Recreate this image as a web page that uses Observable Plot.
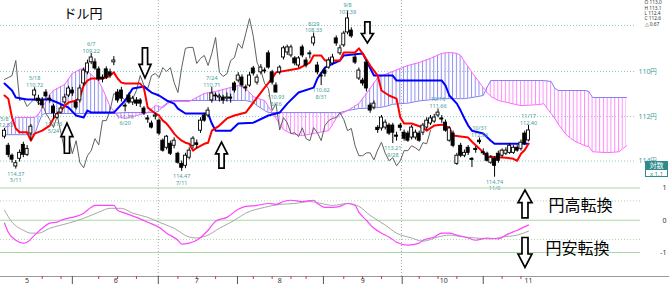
<!DOCTYPE html>
<html><head><meta charset="utf-8">
<script src="https://cdn.jsdelivr.net/npm/d3@7"></script>
<script src="https://cdn.jsdelivr.net/npm/@observablehq/plot@0.6"></script>
<style>
body{margin:0;background:#fff;}
#chart{width:669px;height:284px;overflow:hidden;font-family:"Liberation Sans",Arial,sans-serif;}
#chart svg{display:block;}
</style></head><body><div id="chart"></div>
<script>
// ---- Daily candles (index 0 = 5/8 ... 139 = 11/17) ----
const open = [
112.9,113.31,113.76,114.25,113.9,113.27,113.72,112.76,111.06,111.2,
111.28,110.93,111.2,111.55,112.05,111.82,111.37,111.06,110.84,111.37,
111.28,110.53,110.04,109.6,109.6,109.91,110.27,109.91,110.04,109.6,
110.93,110.84,111.51,111.06,111.37,111.28,111.28,111.64,112.08,112.31,
112.0,112.18,113.08,113.4,113.22,113.31,113.67,114.13,114.22,113.85,
113.31,113.2,112.63,111.95,111.95,111.28,111.06,111.15,111.15,111.2,
111.15,110.53,110.4,110.27,110.7,110.62,109.87,110.49,110.04,109.96,
109.21,110.04,110.62,110.04,109.39,109.17,109.3,109.43,109.74,108.95,
109.52,109.25,108.78,109.74,110.18,109.96,109.83,109.65,108.56,109.21,
108.86,108.3,108.22,109.39,110.31,110.4,109.61,111.51,111.6,112.5,
112.53,112.49,112.4,112.4,112.85,112.4,112.72,112.76,112.94,112.94,
112.76,112.72,112.49,112.31,112.22,111.95,112.08,112.27,113.08,112.76,
114.13,113.31,113.76,113.4,113.9,113.45,113.08,113.6,113.67,114.08,
113.9,113.67,113.76,113.67,113.63,113.63,113.4,113.45,112.76,113.07];
const high = [
113.0,113.85,114.1,114.37,114.05,113.85,113.8,113.1,111.3,111.5,
111.65,111.25,111.4,112.13,112.1,111.9,111.45,111.15,111.1,111.7,
111.4,110.65,110.15,109.7,109.95,110.45,110.5,110.35,110.3,109.75,
111.4,111.35,111.79,111.45,111.5,111.55,111.6,111.95,112.3,112.55,
112.15,112.85,113.6,113.5,113.75,113.45,114.15,114.47,114.35,113.95,
113.45,113.45,112.75,112.25,112.05,111.4,111.3,111.35,111.45,111.35,
111.4,110.95,110.5,110.7,110.9,110.7,110.2,110.6,110.15,110.1,
109.9,110.6,110.93,110.15,109.5,109.3,109.4,109.75,109.85,109.4,
109.85,109.45,108.9,110.15,110.62,110.25,109.9,109.75,108.9,109.3,
108.95,108.4,108.55,109.7,110.4,110.65,110.9,111.85,111.7,112.75,
112.65,112.6,112.85,113.21,113.1,112.65,113.1,113.15,113.05,113.05,
113.15,112.85,112.6,112.4,112.3,112.05,112.3,112.7,113.15,113.4,
114.2,113.85,113.85,113.75,114.3,113.65,113.25,113.75,114.05,114.15,
114.74,114.1,113.85,113.75,113.7,113.7,113.6,113.55,113.3,113.13];
const low = [
112.53,113.2,113.68,113.98,113.5,113.15,113.3,112.35,110.72,111.05,
111.15,110.8,111.05,111.45,111.8,111.5,111.0,110.65,110.7,111.25,
110.6,109.85,109.5,109.22,109.45,109.8,110.15,109.8,109.9,109.35,
110.8,110.7,111.4,110.95,111.1,111.15,111.2,111.55,111.95,112.2,
111.85,112.1,113.0,112.85,113.1,112.95,113.6,114.0,113.65,113.4,
112.9,113.05,112.05,111.85,111.6,110.71,110.95,111.0,111.05,110.95,
111.0,110.45,110.05,110.15,110.6,110.05,109.78,110.15,109.7,109.85,
109.1,109.95,110.5,109.75,108.9,108.85,108.85,109.35,109.35,108.85,
109.4,109.1,108.33,109.6,110.05,109.85,109.4,109.25,108.45,108.85,
108.25,107.39,108.1,109.25,109.85,110.3,109.5,111.4,111.3,112.4,
111.95,112.15,112.3,112.3,112.7,112.3,112.6,112.65,112.4,112.6,
112.65,112.3,112.05,111.95,111.9,111.66,111.95,112.15,112.45,112.65,
113.65,113.2,113.5,113.3,113.85,113.35,112.96,113.45,113.6,113.75,
113.8,113.55,113.45,113.4,113.2,113.3,113.3,113.05,112.65,112.40];
const close = [
112.63,113.72,113.94,114.1,113.63,113.72,113.45,112.45,110.84,111.3,
111.5,111.1,111.25,111.85,111.9,111.64,111.15,110.75,110.97,111.6,
110.75,109.96,109.65,109.39,109.87,110.35,110.35,110.27,110.18,109.52,
111.28,111.2,111.55,111.37,111.2,111.42,111.42,111.86,112.13,112.49,
111.95,112.76,113.53,112.9,113.67,113.08,114.08,114.31,113.76,113.53,
112.99,113.27,112.18,112.18,111.73,110.97,111.1,111.1,111.28,111.15,
111.2,110.84,110.18,110.62,110.75,110.18,110.09,110.27,109.83,110.0,
109.83,110.49,110.93,109.83,108.99,108.95,108.95,109.65,109.43,109.3,
109.74,109.21,108.52,110.04,110.22,110.1,109.52,109.39,108.78,108.99,
108.35,107.7,108.47,109.61,109.96,110.53,110.75,111.73,111.42,112.6,
112.04,112.27,112.76,112.72,112.9,112.5,112.99,113.08,112.49,112.72,
113.08,112.4,112.18,112.08,112.04,111.82,112.13,112.63,112.53,113.31,
113.76,113.76,113.63,113.63,113.95,113.5,113.15,113.65,113.99,113.85,
114.22,113.99,113.53,113.53,113.31,113.4,113.53,113.17,113.22,112.62];

// ---- Ichimoku lines (index, price) ----
const tenkanIdx = [0,1,2,3,4,6,7,8,10,12,13,14,15,16,17,19,20,21,22,23,26,27,28,29,30,31,32,36,37,38,39,40,41,42,43,44,45,46,47,48,49,50,51,52,53,54,55,57,59,61,64,67,69,71,72,75,78,81,82,84,85,89,90,93,94,95,97,99,100,102,104,105,106,108,111,112,114,116,118,119,123,124,126,127,128,133,135,136,137,138,139];
const tenkanVal = [111.06,111.2,112.04,112.53,112.7,112.7,113.08,112.76,112.63,112.4,112.08,111.86,111.73,111.51,111.37,111.28,111.15,110.62,110.4,110.31,110.31,110.27,110.18,110.04,110.31,110.49,110.53,110.53,110.75,111.6,111.73,111.86,111.95,112.18,112.31,112.53,112.76,112.94,113.08,113.17,113.22,113.53,113.4,113.31,113.22,113.17,112.63,112.4,112.08,111.95,111.82,111.15,110.71,110.31,110.04,109.96,109.87,109.61,109.3,109.3,109.52,109.52,109.17,109.17,108.99,109.21,109.74,110.18,110.84,111.06,111.2,112.04,112.31,112.31,112.49,112.63,112.4,112.36,112.49,112.85,112.94,113.13,113.44,113.62,113.8,113.85,113.9,113.99,113.67,113.5,113.22];
const kijunIdx = [0,2,3,6,12,14,17,19,21,22,23,29,32,34,37,38,39,41,43,45,46,48,54,55,56,60,62,66,70,73,75,78,82,83,85,86,89,90,95,98,103,104,116,117,118,120,121,122,123,124,127,129,130,139];
const kijunVal = [110.53,110.84,111.15,111.24,111.24,111.37,111.6,111.95,112.04,111.73,111.82,111.82,111.28,110.75,110.66,110.8,110.93,111.06,111.28,111.42,111.64,111.86,111.86,112.31,112.63,112.63,112.31,112.27,111.95,111.82,111.42,110.93,110.71,110.31,109.83,109.74,109.52,109.3,109.21,110.18,110.18,110.4,110.4,110.62,111.06,111.42,111.73,112.08,112.4,112.63,112.76,113.08,113.22,113.22];
// lagging span, drawn from index 0
const chikou = [110.35,110.27,110.18,109.52,111.28,111.2,111.55,111.37,111.2,111.42,111.42,111.86,112.13,112.49,111.95,112.76,113.53,112.9,113.67,113.08,114.08,114.31,113.76,113.53,112.99,113.27,112.18,112.18,111.73,110.97,111.1,111.1,111.28,111.15,111.2,110.84,110.18,110.62,110.75,110.18,110.09,110.27,109.83,110.0,109.83,110.49,110.93,109.83,108.99,108.95,108.95,109.65,109.43,109.3,109.74,109.21,108.52,110.04,110.22,110.1,109.52,109.39,108.78,108.99,108.35,107.7,108.47,109.61,109.96,110.53,110.75,111.73,111.42,112.6,112.04,112.27,112.76,112.72,112.9,112.5,112.99,113.08,112.49,112.72,113.08,112.4,112.18,112.08,112.04,111.82,112.13,112.63,112.53,113.31,113.76,113.76,113.63,113.63,113.95,113.5,113.15,113.65,113.99,113.85,114.22,113.99,113.53,113.53,113.31,113.4,113.53,113.17,113.22,112.62];
// cloud (leading spans), index up to 165
const cloudIdx = [0,3,8,9,10,11,12,13,16,18,20,21,23,25,26,28,29,30,32,38,40,41,42,44,49,53,56,59,62,64,66,67,69,70,72,74,76,79,83,86,88,89,91,94,97,99,101,103,107,110,113,116,118,120,121,122,124,127,128,129,131,137,142,143,145,146,147,149,151,154,155,156,160,163,165];
const spanA = [112.54,112.04,112.04,111.9,111.6,111.33,111.02,110.84,110.57,110.09,109.91,109.87,110.13,110.44,110.75,111.55,111.73,112.0,112.08,111.82,111.51,111.55,111.6,111.33,111.33,110.97,110.88,110.75,110.62,110.75,111.1,111.19,111.28,111.55,112.08,112.58,112.76,112.85,112.72,112.63,112.08,111.9,111.73,111.42,110.75,110.27,110.13,110.0,109.74,109.61,109.43,109.21,109.17,109.21,109.3,109.56,110.04,110.71,110.93,111.1,111.28,111.51,111.46,111.42,111.86,112.08,112.36,112.81,113.08,113.31,113.35,113.58,113.62,113.58,113.31];
const spanB = [112.81,112.81,112.81,112.31,111.9,111.86,111.86,111.86,111.86,111.86,111.86,111.86,111.86,111.86,111.86,111.86,111.86,111.84,111.82,111.82,111.82,111.73,111.55,111.28,111.28,111.28,111.28,111.28,111.28,111.28,111.37,111.51,111.73,111.82,111.82,111.82,111.82,111.82,111.82,111.82,111.82,111.82,111.73,111.64,111.62,111.6,111.55,111.45,111.4,111.3,111.25,111.2,111.2,111.2,111.2,111.2,111.15,111.06,110.7,110.4,110.4,110.4,110.4,110.4,110.44,110.75,110.84,110.84,110.84,110.84,110.88,111.15,111.15,111.15,111.15];

// ---- Oscillator panel ----
const oscMIdx = [0,1,3,5,6,8,10,12,14,15,18,19,21,23,24,26,29,30,32,35,38,41,43,46,47,49,51,54,56,59,62,64,67,70,72,74,76,79,82,83,85,87,89,91,93,94,96,98,100,102,104,107,110,111,114,116,118,120,123,125,128,131,133,136,139];
const oscMVal = [-0.09,-0.37,-0.62,-0.71,-0.68,-0.46,-0.25,-0.09,-0.06,0.0,0.09,0.12,0.22,0.4,0.46,0.46,0.46,0.31,0.22,0.09,-0.06,-0.22,-0.4,-0.62,-0.74,-0.71,-0.62,-0.31,-0.03,0.09,0.34,0.43,0.46,0.52,0.49,0.58,0.62,0.58,0.62,0.52,0.4,0.4,0.43,0.52,0.46,0.25,0.0,-0.25,-0.4,-0.52,-0.68,-0.77,-0.71,-0.62,-0.52,-0.4,-0.4,-0.46,-0.55,-0.62,-0.55,-0.58,-0.46,-0.31,-0.15];
const oscGIdx = [0,2,5,7,9,12,17,21,25,28,31,34,38,41,45,49,51,54,57,61,64,69,73,77,81,84,87,91,94,97,101,104,108,111,115,118,122,125,129,132,136,139];
const oscGVal = [0.31,-0.06,-0.31,-0.4,-0.4,-0.25,-0.09,0.06,0.25,0.37,0.37,0.22,0.09,-0.06,-0.25,-0.52,-0.55,-0.46,-0.25,0.0,0.22,0.4,0.49,0.52,0.58,0.52,0.46,0.52,0.43,0.15,-0.15,-0.4,-0.55,-0.65,-0.52,-0.46,-0.52,-0.55,-0.58,-0.52,-0.46,-0.34];

// ---- Peak annotations ----
const lowMarks = [[0,"5/8",112.53],[8,"5/18",110.72],[23,"6/7",109.22],[55,"7/24",110.71],[82,"8/29",108.33],[91,"9/8",107.39],[115,"10/16",111.66],[126,"10/31",112.96],[139,"11/17",112.40]];
const highMarks = [[3,"5/11",114.37],[13,"5/24",112.13],[32,"6/20",111.79],[47,"7/11",114.47],[72,"8/16",110.93],[84,"8/31",110.62],[103,"9/28",113.21],[130,"11/6",114.74]];

// ---- Axis / labels ----
const priceGrid = [108,110,112,114];
const priceLabels = ["108円","110円","112円","114円"];
const oscGrid = [1,0,-1];
const oscDotted = [0.6,-0.6];
const monthTickIdx = [18,40.8,61.8,84.6,105.5,127];
const monthLabelIdx = [6,29.5,51,73,95,116.5,139];
const monthNames = ["5","6","7","8","9","10","11"];
const weekTickIdx = [10,15,25,30,35,46,51,56,66,71,76,80,90,95,100,110,115,120,132,137];
const quarterIdx = [40.8,105.3];
const ohlcText = ["O 113.0","H 113.1","L 112.4","C 112.6","△ 0.67"];
// signal arrows [index, tail, tip]
const priceArrows = [[16.7,113.67,112.31],[37.4,108.99,110.31],[57.7,114.35,113.17],[96.4,107.87,108.78]];
const oscArrows = [[138.2,0.06,0.92],[138.2,-0.55,-1.48]];
const oscNotes = [[144.3,0.46,"円高転換"],[143.5,-0.88,"円安転換"]];

const candles = open.map((o,i)=>({i,o,h:high[i],l:low[i],c:close[i]}));
const cloud = cloudIdx.map((i,k)=>({i,a:spanA[k],b:spanB[k]}));
const teal = "#3f9c9c";
const jp = "'Noto Sans CJK JP','Noto Sans',sans-serif";

function blockArrows(list, head, shaft){
  return (index, scales) => {
    const g = d3.create("svg:g");
    for (const [i,tail,tip] of list){
      const cx = scales.x(i), t = scales.y(tail), p = scales.y(tip);
      const s = Math.sign(p - t), hl = Math.abs(p - t)*0.45, hb = p - s*hl;
      const pts = [[cx-shaft,t],[cx-shaft,hb],[cx-head,hb],[cx,p],[cx+head,hb],[cx+shaft,hb],[cx+shaft,t]];
      g.append("path").attr("d","M"+pts.map(q=>q.join(",")).join("L")+"Z")
        .attr("fill","#fff").attr("stroke","#000").attr("stroke-width",1.7).attr("stroke-linejoin","miter");
    }
    return g.node();
  };
}
function hatchDefs(index, scales){
  const d = d3.create("svg:defs");
  const step = scales.x(1) - scales.x(0);
  const mk = (id,color)=>{
    const p = d.append("pattern").attr("id",id).attr("patternUnits","userSpaceOnUse")
      .attr("x",scales.x(0)-0.5).attr("y",0).attr("width",step).attr("height",4);
    p.append("rect").attr("width",1).attr("height",4).attr("fill",color);
  };
  mk("hatchBlue","#8f8ff2"); mk("hatchPink","#ff8cff");
  return d.node();
}

const pricePlot = Plot.plot({
  width:669, height:185, marginLeft:0, marginRight:34, marginTop:0, marginBottom:0,
  x:{domain:[0,139], range:[4,528], axis:null},
  y:{type:"log", domain:[106.93,115.12], range:[0,185], axis:null},
  color:{type:"identity"},
  style:{background:"#fff", overflow:"visible"},
  marks:[
    hatchDefs,
    Plot.ruleY(priceGrid,{stroke:"#8cc8c8", strokeDasharray:"1,2"}),
    Plot.ruleX(quarterIdx,{stroke:"#aaa", strokeDasharray:"1,2"}),
    Plot.areaY(cloud,{x:"i", y1:"a", y2:d=>Math.max(d.a,d.b), fill:"url(#hatchBlue)"}),
    Plot.areaY(cloud,{x:"i", y1:"b", y2:d=>Math.max(d.a,d.b), fill:"url(#hatchPink)"}),
    Plot.line(cloud,{x:"i", y:"b", stroke:"#8080f0", strokeWidth:1}),
    Plot.line(cloud,{x:"i", y:"a", stroke:"#ff66ff", strokeWidth:1}),
    Plot.line(chikou,{x:(d,j)=>j, y:d=>d, stroke:"#606060", strokeWidth:1}),
    Plot.line(kijunVal,{x:(d,j)=>kijunIdx[j], y:d=>d, stroke:"#0000ff", strokeWidth:2}),
    Plot.line(tenkanVal,{x:(d,j)=>tenkanIdx[j], y:d=>d, stroke:"#ff0000", strokeWidth:2}),
    Plot.ruleX(candles,{x:"i", y1:"l", y2:"h", stroke:"#000", strokeWidth:1}),
    Plot.rect(candles,{x1:d=>d.i-0.4, x2:d=>d.i+0.4, y1:"o", y2:"c", fill:d=>d.c>d.o?"#000":"#fff", stroke:"#000", strokeWidth:0.9}),
    Plot.text(lowMarks,{filter:d=>d[2]>=108, x:d=>d[0], y:d=>d[2], text:d=>d[1]+"\n"+d[2].toFixed(2), lineAnchor:"bottom", dy:-1, fontSize:5.5, lineHeight:1.2, fill:teal}),
    Plot.text(lowMarks,{filter:d=>d[2]<108, x:d=>d[0], y:d=>d[2], text:d=>d[1]+"\n"+d[2].toFixed(2), lineAnchor:"bottom", dy:2.5, fontSize:5.5, lineHeight:1.2, fill:teal}),
    Plot.text(highMarks,{x:d=>d[0], y:d=>d[2], text:d=>d[2].toFixed(2)+"\n"+d[1], lineAnchor:"top", dy:2, fontSize:5.5, lineHeight:1.2, fill:teal}),
    blockArrows(priceArrows, 6, 2.6),
    Plot.text(priceGrid.slice(1),{y:d=>d, text:(d,j)=>priceLabels[j+1], frameAnchor:"right", dx:22, textAnchor:"end", fontSize:7, fill:teal}),
    Plot.text(["ドル円"],{frameAnchor:"top-left", dx:63, dy:8, lineAnchor:"top", textAnchor:"start", fontSize:13, fontFamily:jp, fill:"#000"}),
    Plot.text(ohlcText,{frameAnchor:"top-right", dx:9, dy:0.5, lineAnchor:"top", textAnchor:"start", fontSize:4.8, fill:"#333"})
  ]
});

const oscPlot = Plot.plot({
  width:669, height:99, marginLeft:0, marginRight:29, marginTop:0, marginBottom:8,
  x:{domain:[0,139], range:[4,528], axis:null},
  y:{domain:[1,-1], range:[2.5,67], axis:null},
  style:{background:"#fff", overflow:"visible"},
  marks:[
    Plot.ruleY(oscGrid,{stroke:"#a6d9a0"}),
    Plot.ruleY(oscDotted,{stroke:"#a6d9a0", strokeDasharray:"1,2"}),
    Plot.ruleX(quarterIdx,{stroke:"#aaa", strokeDasharray:"1,2"}),
    Plot.line(oscGVal,{x:(d,j)=>oscGIdx[j], y:d=>d, stroke:"#a8a8a8", strokeWidth:1, curve:"monotone-x"}),
    Plot.line(oscMVal,{x:(d,j)=>oscMIdx[j], y:d=>d, stroke:"#ff44ff", strokeWidth:1.2, curve:"monotone-x"}),
    (index, scales, values, dims) => {
      const y = dims.height - dims.marginBottom;
      return d3.create("svg:line").attr("x1",0).attr("x2",dims.width).attr("y1",y+0.5).attr("y2",y+0.5).attr("stroke","#999").node();
    },
    Plot.axisX({ticks:monthTickIdx, tickSize:8, tickFormat:()=>"", stroke:"#555"}),
    Plot.axisX({ticks:weekTickIdx, tickSize:3, tickFormat:()=>"", stroke:"#e03030"}),
    Plot.axisX({ticks:monthLabelIdx, tickSize:0, tickPadding:2, tickFormat:d=>monthNames[monthLabelIdx.indexOf(d)], fontSize:7, fill:"#333"}),
    Plot.text(oscGrid,{y:d=>d, text:d=>String(d), frameAnchor:"right", dx:26, textAnchor:"end", fontSize:7, fill:"#333"}),
    blockArrows(oscArrows, 7, 3),
    Plot.text(oscNotes,{x:d=>d[0], y:d=>d[1], text:d=>d[2], textAnchor:"start", fontSize:16, fontFamily:jp, fill:"#000"})
  ]
});

const host = document.getElementById("chart");
host.append(pricePlot, oscPlot);
// stack the OHLC read-out lines under one another at the top-right corner
d3.select(pricePlot).selectAll("text").filter(function(){ return ohlcText.includes(this.textContent); })
  .attr("transform", function(){ const k = ohlcText.indexOf(this.textContent); const t = d3.select(this).attr("transform") || ""; return t + ` translate(0,${k*5.3})`; });
// log-scale badge (対数) on the price panel
const sel = d3.select(pricePlot);
sel.append("rect").attr("x",645).attr("y",161).attr("width",23).attr("height",8).attr("fill","#2f8a8a");
sel.append("text").attr("x",656.5).attr("y",167.5).attr("text-anchor","middle").attr("font-size",7).attr("fill","#fff").attr("font-family",jp).text("対数");
sel.append("rect").attr("x",645.5).attr("y",169.5).attr("width",22).attr("height",7).attr("fill","#fff").attr("stroke","#2f8a8a");
sel.append("text").attr("x",656.5).attr("y",175.5).attr("text-anchor","middle").attr("font-size",6).attr("fill","#2f8a8a").text("x 1.1");
</script></body></html>
